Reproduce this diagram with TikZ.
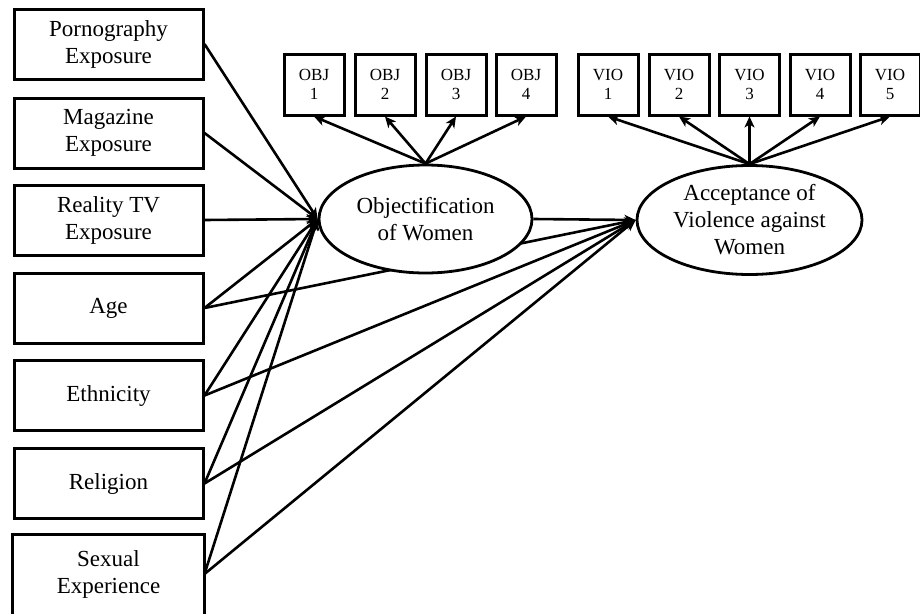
\documentclass[tikz,border=0pt]{standalone}
\usepackage{fontspec}
\setmainfont{Liberation Serif}
\usepackage{tikz}
\usetikzlibrary{arrows.meta,shapes.geometric,backgrounds}

\begin{document}
\begin{tikzpicture}[x=1pt, y=-1pt,
            >={Stealth[length=11pt, width=10pt, inset=3pt]},
            every edge/.style={draw, line width=2.6pt},
            box/.style={draw, line width=3pt, fill=white, minimum width=189pt, minimum height=70pt, align=center, font=\fontsize{23}{27}\selectfont},
            ind/.style={draw, line width=3pt, fill=white, minimum width=60pt, minimum height=61pt, inner sep=0pt, align=center, font=\fontsize{17}{19}\selectfont},
            lat/.style={draw, ellipse, line width=2.8pt, fill=white, inner sep=0pt, align=center, font=\fontsize{23}{27}\selectfont}]
            \clip (0,0) rectangle (920,613);
            \node[box](porn) at (108.5,44){Pornography\\Exposure};
            \node[box](mag) at (108.5,133){Magazine\\Exposure};
            \node[box](tv) at (108.5,220){Reality TV\\Exposure};
            \node[box](age) at (108.5,308){Age};
            \node[box](eth) at (108.5,395.5){Ethnicity};
            \node[box](rel) at (108.5,483.5){Religion};
            \node[box, draw=none](sex) at (108.5,574){Sexual\\Experience};
            \draw[line width=3pt] ([yshift=-30pt]sex.south west) -- ([yshift=3pt]sex.north west) -- ([yshift=3pt]sex.north east) -- ([yshift=-30pt]sex.south east);
            \node[lat, minimum width=213pt, minimum height=108pt](obj) at (425.5,219){Objectification\\of Women};
            \node[lat, minimum width=225pt, minimum height=109pt](acc) at (749.5,220){Acceptance of\\Violence against\\Women};
            \node[ind](o1) at (314,84.5){OBJ\\1};
            \node[ind](o2) at (385,84.5){OBJ\\2};
            \node[ind](o3) at (456,84.5){OBJ\\3};
            \node[ind](o4) at (526,84.5){OBJ\\4};
            \node[ind](v1) at (608,84.5){VIO\\1};
            \node[ind](v2) at (679,84.5){VIO\\2};
            \node[ind](v3) at (749.5,84.5){VIO\\3};
            \node[ind](v4) at (820,84.5){VIO\\4};
            \node[ind](v5) at (890,84.5){VIO\\5};
            \begin{scope}[on background layer]
            \path (porn.east) edge[->] (obj.west);
            \path (mag.east) edge[->] (obj.west);
            \path (tv.east) edge[->] (obj.west);
            \path (age.east) edge[->] (obj.west);
            \path (eth.east) edge[->] (obj.west);
            \path (rel.east) edge[->] (obj.west);
            \path (sex.east) edge[->] (obj.west);
            \path (obj.east) edge[->] (acc.west);
            \path (age.east) edge[->] (acc.west);
            \path (eth.east) edge[->] (acc.west);
            \path (rel.east) edge[->] (acc.west);
            \path (sex.east) edge[->] (acc.west);
            \path (obj.north) edge[->] (o1.south);
            \path (obj.north) edge[->] (o2.south);
            \path (obj.north) edge[->] (o3.south);
            \path (obj.north) edge[->] (o4.south);
            \path (acc.north) edge[->] (v1.south);
            \path (acc.north) edge[->] (v2.south);
            \path (acc.north) edge[->] (v3.south);
            \path (acc.north) edge[->] (v4.south);
            \path (acc.north) edge[->] (v5.south);
            \end{scope}
\end{tikzpicture}
\end{document}
